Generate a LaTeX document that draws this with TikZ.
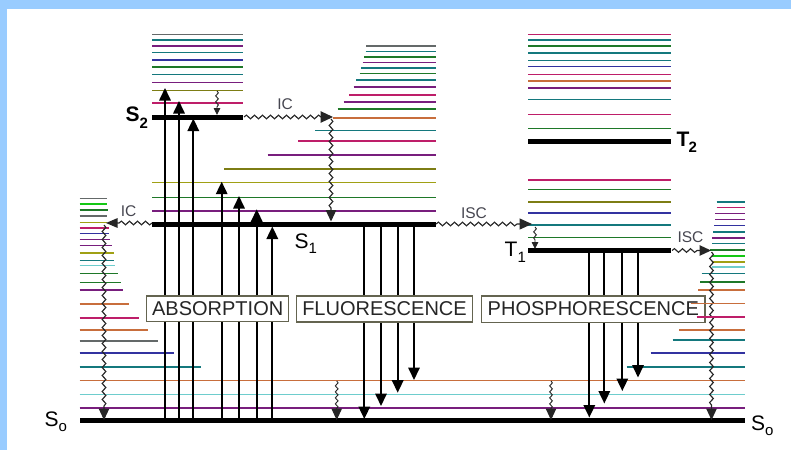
\documentclass[tikz,border=0pt]{standalone}
\usepackage{fontspec}
\setmainfont{Liberation Sans}
\usetikzlibrary{arrows.meta,decorations.pathmorphing}
\definecolor{bgblue}{RGB}{153,204,255}
\definecolor{vt}{RGB}{20,120,125}
\definecolor{vp}{RGB}{120,30,125}
\definecolor{vg}{RGB}{30,120,40}
\definecolor{vm}{RGB}{190,30,105}
\definecolor{vo}{RGB}{125,125,20}
\definecolor{vb}{RGB}{50,50,160}
\definecolor{vr}{RGB}{200,110,60}
\definecolor{vh}{RGB}{20,200,20}
\definecolor{vc}{RGB}{110,205,205}
\definecolor{vy}{RGB}{160,160,20}
\definecolor{vk}{RGB}{100,105,105}
\definecolor{boxc}{RGB}{100,100,80}
\definecolor{labc}{RGB}{70,70,80}
\tikzset{
  vib/.style={line width=1.6pt},
  lev/.style={line width=5pt, draw=black},
  rad/.style={line width=1.7pt, draw=black, -{Triangle[length=12.5pt,width=11.5pt]}},
  wav/.style={line width=1.1pt, draw=black!85, decorate,
    decoration={snake, amplitude=1.9pt, segment length=8pt, post length=12pt}},
  swav/.style={line width=0.9pt, draw=black!85, decorate,
    decoration={snake, amplitude=1.4pt, segment length=6pt, post length=8pt}},
  bighead/.style={-{Triangle[length=11.5pt,width=10.5pt]}},
  smallhead/.style={-{Triangle[length=7pt,width=6.5pt]}},
  box/.style={draw=boxc, line width=1.2pt, fill=white, inner sep=0pt,
    text=black!85, font=\fontsize{20}{20}\selectfont},
  lvl/.style={anchor=base west, inner sep=0pt, font=\fontsize{21}{21}\selectfont},
  trl/.style={inner sep=0pt, text=labc, font=\fontsize{15.5}{15.5}\selectfont}
}
\begin{document}
\begin{tikzpicture}[x=1pt,y=-1pt]
\useasboundingbox (0,0) rectangle (791,450);
\fill[bgblue] (0,0) rectangle (791,450);
\fill[white] (7,9) rectangle (791,450);

% S2 vibrational block
\foreach \y/\c in {34.3/vk,40/vt,46/vp,52.3/vt,60/vb,67/vg,74.5/vt,82.3/vp,90.3/vo,103/vm}
  \draw[vib,draw=\c] (152,\y) -- (243,\y);

% middle (S1) block
\foreach \l/\y/\c in {366/45.7/vk,365.5/51.5/vt,364/57/vg,362.5/62.3/vp,361/67.7/vt,
  359.5/73.5/vg,356/80/vt,353.5/87/vp,349/95/vm,343.5/102/vp,337.5/108.7/vg,
  333/117.7/vr,315/130.5/vt,267.5/154.7/vp,224.3/169.2/vo,152/182.5/vy,
  152/197.3/vg,152/210.7/vp}
  \draw[vib,draw=\c] (\l,\y) -- (435.5,\y);
\draw[line width=2.4pt,draw=vm] (298,140.8) -- (435.5,140.8);

% left S0 ladder
\foreach \y/\r/\c in {198.3/107/vk,204/107/vh,210/107.5/vg,216/107/vk,222.3/107/vy,
  227.7/109/vm,233.3/108.5/vb,239.3/109.5/vp,245.5/111.5/vp,253/113.5/vy,
  260.3/113.5/vt,265.3/114.5/vc,273.3/117.5/vg,282.5/121/vg,290/123/vp,
  304.2/129.3/vr,317.7/139.3/vm,330.2/148.3/vr,340.7/158.3/vk,353/174/vb,
  366.7/201/vt}
  \draw[vib,draw=\c] (79.5,\y) -- (\r,\y);

% full-width S0 levels
\draw[line width=1.3pt,draw=vr] (79.5,380.7) -- (745,380.7);
\draw[line width=1.3pt,draw=vc] (79.5,394.2) -- (745,394.2);
\draw[line width=1.5pt,draw=vp] (79.5,408.2) -- (745,408.2);

% right S0 ladder
\foreach \y/\l/\c in {201.7/716.5/vt,207.3/716.5/vm,213.5/715/vp,219.5/715/vp,
  225.3/714/vb,231.7/713/vt,238/712/vp,243.3/712/vt,250/710/vg,256/712/vh,
  261.7/712/vy,266.7/712/vc,273.3/701.7/vt,281.7/700/vg,290/698.3/vr,
  330/679.3/vr,340.2/672.7/vt,352.7/650.7/vb,366.7/626.7/vt}
  \draw[vib,draw=\c] (\l,\y) -- (744.5,\y);

% triplet block
\foreach \y/\c in {34.3/vm,40/vt,46/vg,52.7/vt,60.3/vt,66.3/vb,74.3/vm,81/vr,
  87.7/vp,99.3/vt,114.3/vm,128.3/vg,180/vm,189.3/vg,201.7/vo,212.7/vb,225/vt,237.3/vg}
  \draw[vib,draw=\c] (528.3,\y) -- (671,\y);

% electronic levels
\draw[lev] (152,117) -- (243,117);
\draw[lev] (152,224) -- (435.5,224);
\draw[lev] (80,420.5) -- (745,420.5);
\draw[lev] (528,141.5) -- (671,141.5);
\draw[lev] (528,250.5) -- (671,250.5);

% absorption
\foreach \x/\t in {165/88,179/101,193.3/118.5,221.7/181.7,239/196,256.7/209.3,272.3/226.5}
  \draw[rad] (\x,418.5) -- (\x,\t);
% fluorescence
\foreach \x/\t in {364.3/419,381/406,397.7/392.7,414/380}
  \draw[rad] (\x,226) -- (\x,\t);
% phosphorescence
\foreach \x/\t in {589.3/417.5,604.3/403.5,622.3/391,638/377.5}
  \draw[rad] (\x,252.5) -- (\x,\t);

% non-radiative transitions
\draw[wav,-{Triangle[length=12.5pt,width=11.5pt]}] (244,117) -- (333,117);
\draw[wav,bighead] (331,119) -- (331,221.5);
\draw[swav,smallhead] (217,91) -- (217,115);
\draw[wav,-{Triangle[length=11.5pt,width=9.5pt]}] (152,223) -- (106,223);
\draw[wav,bighead] (104,225) -- (104,420);
\draw[wav,-{Triangle[length=12.5pt,width=11pt]}] (436,224) -- (532,224);
\draw[swav,smallhead] (535,227) -- (535,249);
\draw[wav,-{Triangle[length=11.5pt,width=10.5pt]}] (672,250.5) -- (711,250.5);
\draw[wav,bighead] (711.5,252) -- (711.5,420);
\draw[swav,bighead] (336.7,381) -- (336.7,420);
\draw[swav,bighead] (551,381) -- (551,420);

\node[trl] (ic1) at (285,104.5) {IC};
\node[trl] (ic2) at (128.5,211) {IC};
\node[trl] (isc1) at (474,213) {ISC};
\node[trl] (isc2) at (690.5,237) {ISC};

% boxes
\node[box, minimum width=142pt, minimum height=25.7pt] (abs) at (217.7,308.9) {ABSORPTION};
\node[box, minimum width=175.6pt, minimum height=26pt] (flu) at (384.5,309) {FLUORESCENCE};
\node[box, minimum width=223.3pt, minimum height=26.3pt] (pho) at (593.3,309.1) {PHOSPHORESCENCE};
\draw[vib,draw=vr] (690.5,303.3) -- (744.5,303.3);
\draw[vib,draw=vm] (696.5,316.9) -- (744.5,316.9);

% level labels
\node[lvl] (s2) at (125.5,121.7) {\bfseries S\raisebox{-6.5pt}{\fontsize{15}{15}\selectfont 2}};
\node[lvl] (s1) at (294.5,248.3) {S\raisebox{-5pt}{\fontsize{15}{15}\selectfont 1}};
\node[lvl] (s0l) at (44.5,426.7) {S\raisebox{-4.8pt}{\fontsize{15}{15}\selectfont o}};
\node[lvl] (s0r) at (751,430) {S\raisebox{-5pt}{\fontsize{15}{15}\selectfont o}};
\node[lvl] (t2) at (676.5,146.7) {\bfseries T\kern-1pt\raisebox{-6pt}{\fontsize{15}{15}\selectfont 2}};
\node[lvl] (t1) at (504.5,256) {T\raisebox{-6.7pt}{\fontsize{15}{15}\selectfont 1}};
\end{tikzpicture}
\end{document}
